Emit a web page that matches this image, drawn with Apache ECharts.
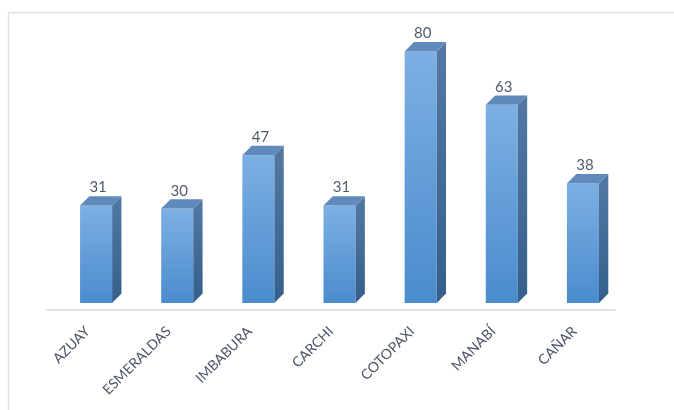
<!DOCTYPE html>
<html>
<head>
<meta charset="utf-8">
<style>
  html, body { margin: 0; padding: 0; background: #ffffff; }
  #chart { width: 674px; height: 410px; }
</style>
<script src="https://cdn.jsdelivr.net/npm/echarts@6/dist/echarts.min.js"></script>
</head>
<body>
<div id="chart"></div>
<script>
// Provinces and their counts
const categories = ['AZUAY', 'ESMERALDAS', 'IMBABURA', 'CARCHI', 'COTOPAXI', 'MANABÍ', 'CAÑAR'];
const values = [31, 30, 47, 31, 80, 63, 38];

const chart = echarts.init(document.getElementById('chart'), null, { renderer: 'canvas' });

// 3D-looking column: front face, right side and top, set back from the floor edge
function renderBar(params, api) {
  const idx = api.value(0);
  const val = api.value(1);
  const base = api.coord([idx, 0]);
  const top = api.coord([idx, val]);
  const band = api.size([1, 0])[0];
  const w = band * 0.395;
  const depth = band * 0.115;
  const shiftX = band * 0.105;
  const shiftY = band * 0.087;

  const x0 = base[0] + shiftX - w / 2;
  const x1 = x0 + w;
  const yb = base[1] - shiftY;
  const yt = top[1] - shiftY;

  const front = {
    type: 'rect',
    shape: { x: x0, y: yt, width: w, height: yb - yt },
    style: {
      fill: new echarts.graphic.LinearGradient(0, 0, 0, 1, [
        { offset: 0, color: '#7cb0e3' },
        { offset: 1, color: '#4b8bcd' }
      ])
    }
  };
  const side = {
    type: 'polygon',
    shape: { points: [[x1, yt], [x1 + depth, yt - depth], [x1 + depth, yb - depth], [x1, yb]] },
    style: {
      fill: new echarts.graphic.LinearGradient(0, 0, 0, 1, [
        { offset: 0, color: '#5379a3' },
        { offset: 1, color: '#345f8c' }
      ])
    }
  };
  const cap = {
    type: 'polygon',
    shape: { points: [[x0, yt], [x0 + depth, yt - depth], [x1 + depth, yt - depth], [x1, yt]] },
    style: { fill: '#5f8abb' }
  };
  const label = {
    type: 'text',
    style: {
      text: String(val),
      x: x0 + w / 2 + 2,
      y: yt - depth - 1,
      align: 'center',
      verticalAlign: 'bottom',
      fill: '#505b6c',
      font: '15px Lato, "Liberation Sans", sans-serif'
    }
  };
  return { type: 'group', children: [front, side, cap, label] };
}

chart.setOption({
  animation: false,
  backgroundColor: '#ffffff',
  graphic: [{
    type: 'rect',
    silent: true,
    shape: { x: 8.5, y: 12.5, width: 720, height: 440 },
    style: { fill: 'none', stroke: '#dfe3e8', lineWidth: 1.5 }
  }],
  grid: { left: 47, right: 59, top: 27, bottom: 100 },
  xAxis: {
    type: 'category',
    data: categories,
    axisLine: { show: true, lineStyle: { color: '#d9d9d9', width: 1.5 } },
    axisTick: { show: false },
    axisLabel: {
      rotate: 45,
      interval: 0,
      margin: 19,
      color: '#4a5568',
      fontSize: 14,
      fontFamily: 'Lato, "Liberation Sans", sans-serif'
    }
  },
  yAxis: {
    type: 'value',
    min: 0,
    max: 90,
    show: false,
    splitLine: { show: false }
  },
  series: [{
    type: 'custom',
    renderItem: renderBar,
    data: values.map((v, i) => [i, v]),
    encode: { x: 0, y: 1 },
    clip: false
  }]
});
</script>
</body>
</html>
